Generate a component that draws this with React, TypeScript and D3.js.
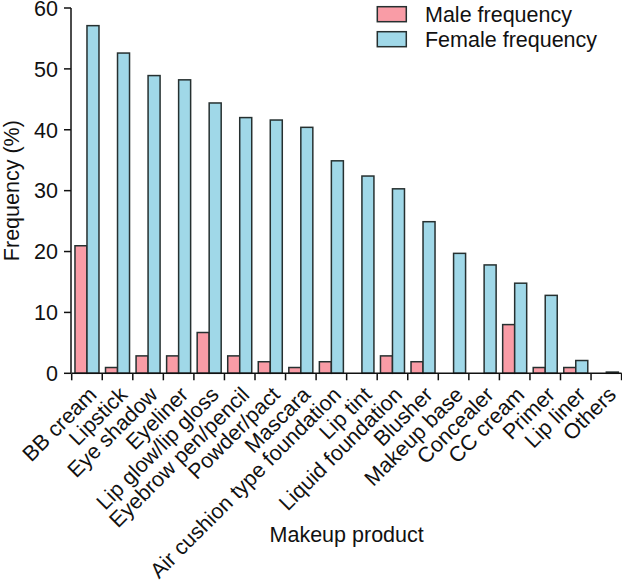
import { useRef, useEffect } from "react";
import * as d3 from "d3";

const categories = [
  "BB cream",
  "Lipstick",
  "Eye shadow",
  "Eyeliner",
  "Lip glow/lip gloss",
  "Eyebrow pen/pencil",
  "Powder/pact",
  "Mascara",
  "Air cushion type foundation",
  "Lip tint",
  "Liquid foundation",
  "Blusher",
  "Makeup base",
  "Concealer",
  "CC cream",
  "Primer",
  "Lip liner",
  "Others",
];

const maleFreq = [20.95, 0.95, 2.86, 2.86, 6.7, 2.86, 1.9, 0.95, 1.9, 0, 2.86, 1.9, 0, 0, 8.0, 0.95, 0.95, 0];
const femaleFreq = [57.1, 52.6, 48.9, 48.2, 44.4, 42.0, 41.6, 40.4, 34.9, 32.4, 30.3, 24.9, 19.7, 17.8, 14.8, 12.8, 2.1, 0.2];

const seriesNames = ["Male frequency", "Female frequency"];
const yTicks = [0, 10, 20, 30, 40, 50, 60];

const COLORS = ["#f99ca6", "#a0d8e8"];
const STROKE = "#263030";
const FONT = "'Liberation Sans', Arial, Helvetica, sans-serif";

export default function App() {
  const svgRef = useRef<SVGSVGElement>(null);

  useEffect(() => {
    if (!svgRef.current) return;
    const width = 622;
    const height = 585;
    const left = 71.7;
    const right = 621.6;
    const top = 8;
    const bottom = 373.3;

    const svg = d3.select(svgRef.current);
    svg.selectAll("*").remove();
    svg.attr("width", width).attr("height", height);

    const x = d3
      .scaleBand<string>()
      .domain(categories)
      .range([left, right])
      .paddingInner(0.214)
      .paddingOuter(0.107);

    const xSub = d3
      .scaleBand<string>()
      .domain(["male", "female"])
      .range([0, x.bandwidth()]);

    const y = d3.scaleLinear().domain([0, 60]).range([bottom, top]);

    const rows = categories.map((c, i) => ({
      category: c,
      values: [
        { key: "male", v: maleFreq[i], color: COLORS[0] },
        { key: "female", v: femaleFreq[i], color: COLORS[1] },
      ],
    }));

    // Bars
    const groups = svg
      .append("g")
      .selectAll("g")
      .data(rows)
      .enter()
      .append("g")
      .attr("transform", (d) => `translate(${x(d.category)},0)`);

    groups
      .selectAll("rect")
      .data((d) => d.values.filter((e) => e.v > 0))
      .enter()
      .append("rect")
      .attr("x", (d) => xSub(d.key) || 0)
      .attr("y", (d) => y(d.v))
      .attr("width", xSub.bandwidth())
      .attr("height", (d) => bottom - y(d.v))
      .attr("fill", (d) => d.color)
      .attr("stroke", STROKE)
      .attr("stroke-width", 1.5);

    // X axis
    const axisG = svg.append("g").attr("stroke", "#111").attr("stroke-width", 1.5);
    axisG
      .append("line")
      .attr("x1", left)
      .attr("x2", right)
      .attr("y1", bottom)
      .attr("y2", bottom);
    const step = x.step();
    const boundaries = d3.range(categories.length + 1).map((i) => left + i * step);
    axisG
      .selectAll(".xtick")
      .data(boundaries)
      .enter()
      .append("line")
      .attr("x1", (d) => d)
      .attr("x2", (d) => d)
      .attr("y1", bottom)
      .attr("y2", bottom + 7);

    svg
      .append("g")
      .selectAll("text")
      .data(categories)
      .enter()
      .append("text")
      .attr("transform", (d) => {
        const cx = (x(d) || 0) + x.bandwidth() / 2 + 11;
        return `translate(${cx},396) rotate(-45)`;
      })
      .attr("text-anchor", "end")
      .attr("font-family", FONT)
      .attr("font-size", 21.5)
      .attr("fill", "#111")
      .text((d) => d);

    // Y axis
    const yAxis = svg.append("g").attr("stroke", "#111").attr("stroke-width", 1.5);
    yAxis
      .append("line")
      .attr("x1", 71)
      .attr("x2", 71)
      .attr("y1", y(60))
      .attr("y2", y(0));
    yAxis
      .selectAll(".ytick")
      .data(yTicks)
      .enter()
      .append("line")
      .attr("x1", 64)
      .attr("x2", 71)
      .attr("y1", (d) => y(d))
      .attr("y2", (d) => y(d));

    svg
      .append("g")
      .selectAll("text")
      .data(yTicks)
      .enter()
      .append("text")
      .attr("x", 58)
      .attr("y", (d) => y(d))
      .attr("dy", "0.36em")
      .attr("text-anchor", "end")
      .attr("font-family", FONT)
      .attr("font-size", 21.5)
      .attr("fill", "#111")
      .text((d) => d);

    // Axis titles
    svg
      .append("text")
      .attr("transform", `translate(18.5,${(top + bottom) / 2}) rotate(-90)`)
      .attr("text-anchor", "middle")
      .attr("font-family", FONT)
      .attr("font-size", 21.5)
      .attr("fill", "#111")
      .text("Frequency (%)");

    svg
      .append("text")
      .attr("x", (left + right) / 2)
      .attr("y", 541.7)
      .attr("text-anchor", "middle")
      .attr("font-family", FONT)
      .attr("font-size", 21.5)
      .attr("fill", "#111")
      .text("Makeup product");

    // Legend
    const legend = svg
      .append("g")
      .selectAll("g")
      .data(seriesNames)
      .enter()
      .append("g")
      .attr("transform", (_, i) => `translate(377.3,${6.7 + i * 25})`);
    legend
      .append("rect")
      .attr("width", 29)
      .attr("height", 15)
      .attr("fill", (_, i) => COLORS[i])
      .attr("stroke", STROKE)
      .attr("stroke-width", 1.5);
    legend
      .append("text")
      .attr("x", 47.7)
      .attr("y", 15)
      .attr("font-family", FONT)
      .attr("font-size", 21.5)
      .attr("fill", "#111")
      .text((d) => d);
  }, []);

  return (
    <div style={{ position: "absolute", left: 0, top: 0 }}>
      <svg ref={svgRef} style={{ display: "block" }} />
    </div>
  );
}
